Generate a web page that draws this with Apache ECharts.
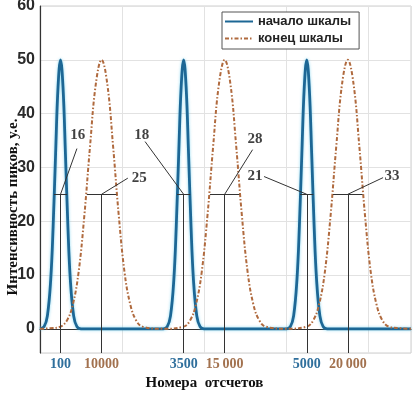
<!DOCTYPE html>
<html>
<head>
<meta charset="utf-8">
<script src="https://cdn.jsdelivr.net/npm/echarts@6/dist/echarts.min.js"></script>
<style>
html,body{margin:0;padding:0;background:#fff}
#chart{width:417px;height:397px}
</style>
</head>
<body>
<div id="chart"></div>
<script>
// начало шкалы (синяя кривая)
var startX = [0, 5, 9, 13, 16, 19, 22, 25, 28, 31, 34, 37, 41, 45, 50, 55,
    145, 150, 155, 159, 163, 166, 169, 172, 175, 178, 181, 184, 187, 191, 195, 200, 205,
    295, 300, 305, 309, 313, 316, 319, 322, 325, 328, 331, 334, 337, 341, 345, 350, 355,
    452]
var startY = [0, 0.4, 2.4, 9, 19, 32.5, 45, 50, 45, 32.5, 19, 9, 2.4, 0.4, 0, 0,
    0, 0, 0.4, 2.4, 9, 19, 32.5, 45, 50, 45, 32.5, 19, 9, 2.4, 0.4, 0, 0,
    0, 0, 0.4, 2.4, 9, 19, 32.5, 45, 50, 45, 32.5, 19, 9, 2.4, 0.4, 0, 0,
    0]
// конец шкалы (коричневая штрих-пунктирная)
var endX = [0, 12, 25, 33, 40, 47, 54, 61, 68, 75, 82, 89, 96, 103, 110, 117, 125,
    150, 175, 183, 190, 197, 204, 211, 218, 225, 232, 239, 246, 253, 260, 267, 275,
    300, 325, 333, 340, 347, 354, 361, 368, 375, 382, 389, 396, 403, 410, 417, 425,
    440, 452]
var endY = [0, 0.1, 0.4, 1.6, 4.5, 10.5, 21, 34, 45.5, 50, 45.5, 34, 21, 10.5, 4.5, 1.6, 0.4,
    0, 0.4, 1.6, 4.5, 10.5, 21, 34, 45.5, 50, 45.5, 34, 21, 10.5, 4.5, 1.6, 0.4,
    0, 0.4, 1.6, 4.5, 10.5, 21, 34, 45.5, 50, 45.5, 34, 21, 10.5, 4.5, 1.6, 0.4,
    0.1, 0]

// отметки пиков и ширина на полувысоте
var peakX = [25, 75, 175, 225, 325, 375]
var halfWidth = [8, 18, 8, 18, 8, 18]
var halfLevel = 25
var tickText = ['100', '10000', '3500', '15\u2009000', '5000', '20\u2009000']

// подписи с выносками
var noteText = ['16', '25', '18', '28', '21', '33']
var noteX = [46, 121, 124, 262, 262, 429]
var noteY = [36, 28, 36, 35.3, 28.4, 28.3]
var leadX = [45, 107, 128, 259, 273, 418]
var leadY = [33.5, 28, 34.8, 33.3, 28.3, 28.1]

var yMin = -4.5
var xMax = 452

var blue = '#1d6795'
var brown = '#b06a3e'

function zip(a, b) {
    var out = []
    for (var i = 0; i < a.length; i++) out.push([a[i], b[i]])
    return out
}

var marks = []
for (var i = 0; i < peakX.length; i++) {
    // вертикаль от оси до полувысоты
    marks.push([{coord: [peakX[i], yMin]}, {coord: [peakX[i], halfLevel]}])
    // ширина на полувысоте
    marks.push([{coord: [peakX[i] - halfWidth[i], halfLevel]}, {coord: [peakX[i] + halfWidth[i], halfLevel]}])
    // выноска к подписи
    marks.push([{coord: [peakX[i], halfLevel]}, {coord: [leadX[i], leadY[i]]}])
}

var notes = []
for (var j = 0; j < noteText.length; j++) {
    notes.push({name: noteText[j], value: [noteX[j], noteY[j]]})
}

var serif = 'Liberation Serif'
var sans = 'Liberation Sans'

var chart = echarts.init(document.getElementById('chart'))
var option = {
    animation: false,
    backgroundColor: '#fff',
    grid: {
        left: 40, right: 6, top: 6, bottom: 44,
        show: true, borderColor: '#cfcfcf', borderWidth: 1,
        outerBoundsMode: 'none'
    },
    // подпись оси Y (повернутая)
    graphic: [{
        type: 'text',
        x: 13, y: 207,
        rotation: Math.PI / 2,
        style: {
            text: 'Интенсивность пиков, у.е.',
            align: 'center', verticalAlign: 'middle',
            fontFamily: serif, fontWeight: 'bold', fontSize: 15, fill: '#111'
        }
    }],
    legend: {
        data: ['начало шкалы', 'конец шкалы'],
        orient: 'vertical',
        left: 222, top: 12,
        padding: [3, 8, 4, 2],
        itemWidth: 28, itemHeight: 14, itemGap: 4,
        backgroundColor: '#fff',
        borderColor: '#555', borderWidth: 1,
        itemStyle: {opacity: 0},
        textStyle: {fontFamily: sans, fontWeight: 'bold', fontSize: 13, color: '#222'}
    },
    xAxis: [{
        type: 'value', min: 0, max: xMax, interval: 100,
        axisLine: {lineStyle: {color: '#333', width: 1.2}},
        axisTick: {show: false},
        axisLabel: {show: false},
        splitLine: {lineStyle: {color: '#e2e2e2'}}
    }, {
        type: 'value', min: 0, max: xMax, interval: 25, position: 'bottom',
        axisLine: {show: false},
        axisTick: {show: false},
        splitLine: {show: false},
        axisLabel: {
            margin: 4,
            formatter: function (v) {
                var k = peakX.indexOf(v)
                if (k < 0) return ''
                return '{' + (k % 2 ? 'e' : 's') + '|' + tickText[k] + '}'
            },
            rich: {
                s: {color: '#2f6f9c', fontFamily: serif, fontWeight: 'bold', fontSize: 14},
                e: {color: '#a2714e', fontFamily: serif, fontWeight: 'bold', fontSize: 14}
            }
        },
        name: 'Номера  отсчетов',
        nameLocation: 'middle',
        nameGap: 22,
        nameTextStyle: {fontFamily: serif, fontWeight: 'bold', fontSize: 15, color: '#111', padding: [0, 42, 0, 0]}
    }],
    yAxis: {
        type: 'value', min: yMin, max: 60,
        axisLine: {show: true, lineStyle: {color: '#333', width: 1.2}},
        axisTick: {show: false},
        axisLabel: {
            margin: 5,
            fontFamily: sans, fontWeight: 'bold', fontSize: 16, color: '#2a2a2a',
            formatter: function (v) { return v % 10 === 0 ? String(v) : '' }
        },
        splitLine: {lineStyle: {color: '#e2e2e2'}}
    },
    series: [{
        name: 'начало шкалы',
        type: 'line',
        symbol: 'none',
        smooth: 0.4,
        data: zip(startX, startY),
        lineStyle: {color: blue, width: 2.8, shadowColor: 'rgba(90,200,235,0.7)', shadowBlur: 3},
        itemStyle: {color: blue},
        z: 3
    }, {
        name: 'конец шкалы',
        type: 'line',
        symbol: 'none',
        smooth: 0.4,
        data: zip(endX, endY),
        lineStyle: {color: brown, width: 2, type: [4, 2, 1.5, 2]},
        itemStyle: {color: brown},
        z: 3
    }, {
        name: 'отметки',
        type: 'line',
        data: [],
        markLine: {
            silent: true,
            symbol: ['none', 'none'],
            label: {show: false},
            lineStyle: {color: '#333', width: 1, type: 'solid'},
            data: marks
        },
        z: 4
    }, {
        name: 'подписи',
        type: 'scatter',
        symbolSize: 0,
        silent: true,
        data: notes,
        itemStyle: {color: 'rgba(0,0,0,0)'},
        label: {
            show: true, position: 'inside', formatter: '{b}',
            fontFamily: serif, fontWeight: 'bold', fontSize: 15, color: '#111'
        },
        z: 5
    }]
}
chart.setOption(option)
</script>
</body>
</html>
